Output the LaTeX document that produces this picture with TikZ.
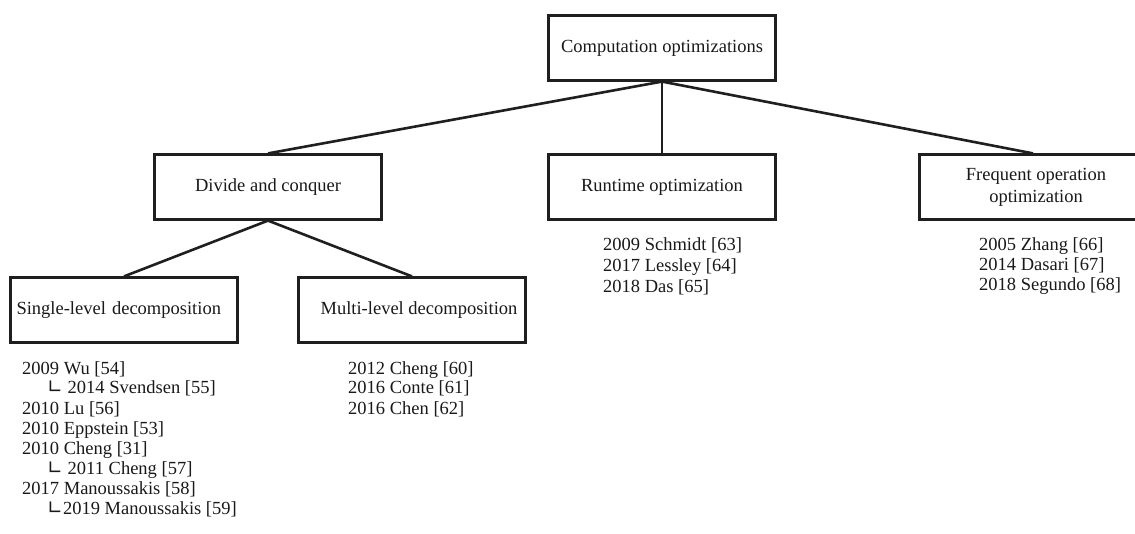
\documentclass[tikz,border=0pt]{standalone}
\usepackage{fontspec}
\setmainfont{Liberation Serif}
\newfontfamily\symfont{DejaVu Sans}
\begin{document}
\begin{tikzpicture}[x=1pt,y=-1pt,
  box/.style={draw=black!88,line width=2.2pt,minimum width=227pt,minimum height=65pt,inner sep=0pt,align=center,font=\fontsize{18.5}{22}\selectfont,text=black!90},
  link/.style={draw=black!88,line width=2.6pt},
  item/.style={anchor=base west,inner sep=0pt,font=\fontsize{18.5}{22}\selectfont,text=black!90}]
\useasboundingbox (0,0) rectangle (1135,534);
\newcommand{\corner}{{\symfont\fontsize{19}{19}\selectfont ∟}}
% boxes
\node[box] (root) at (662,48) {Computation optimizations};
\node[box] (dc) at (268,187) {Divide and conquer};
\node[box] (rt) at (662,187) {Runtime optimization};
\node[box] (fo) at (1033,187) {\hspace*{6pt}Frequent operation\\\hspace*{6pt}optimization};
\node[box,align=left,text width=215pt] (sl) at (124,310) {Single-level decomposition};
\node[box] (ml) at (412,310) {\hspace*{14pt}Multi-level decomposition};
% connectors
\draw[link] (root.south) -- (dc.north);
\draw[link] (root.south) -- (rt.north);
\draw[link] (root.south) -- (fo.north);
\draw[link] (dc.south) -- (sl.north);
\draw[link] (dc.south) -- (ml.north);
% single-level list
\node[item] (s1) at (22,375) {2009 Wu [54]};
\node[item] (s2) at (47,394) {\corner\ 2014 Svendsen [55]};
\node[item] (s3) at (22,414) {2010 Lu [56]};
\node[item] (s4) at (22,434) {2010 Eppstein [53]};
\node[item] (s5) at (22,454) {2010 Cheng [31]};
\node[item] (s6) at (47,474) {\corner\ 2011 Cheng [57]};
\node[item] (s7) at (22,494) {2017 Manoussakis [58]};
\node[item] (s8) at (47,514) {\corner2019 Manoussakis [59]};
% multi-level list
\node[item] (m1) at (348,374) {2012 Cheng [60]};
\node[item] (m2) at (348,394) {2016 Conte [61]};
\node[item] (m3) at (348,414) {2016 Chen [62]};
% runtime list
\node[item] (r1) at (603,251) {2009 Schmidt [63]};
\node[item] (r2) at (603,272) {2017 Lessley [64]};
\node[item] (r3) at (603,293) {2018 Das [65]};
% frequent list
\node[item] (f1) at (979,251) {2005 Zhang [66]};
\node[item] (f2) at (979,271) {2014 Dasari [67]};
\node[item] (f3) at (979,291) {2018 Segundo [68]};
\end{tikzpicture}
\end{document}
